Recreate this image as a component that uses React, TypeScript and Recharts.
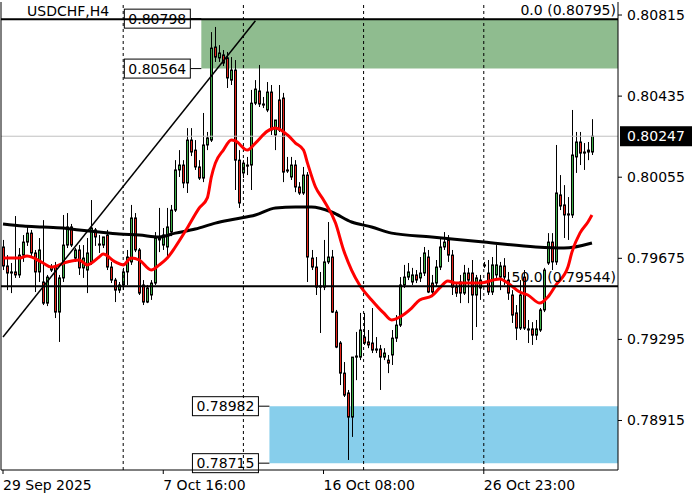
import {
  Bar,
  ComposedChart,
  Line,
  ReferenceArea,
  ReferenceLine,
  XAxis,
  YAxis,
} from "recharts";

const FONT = "DejaVu Sans, sans-serif";
const UP = "#3cae46";
const DOWN = "#e2231a";

// USDCHF H4 candles: [open, high, low, close]
const candles: [number, number, number, number][] = [
  [0.79728, 0.79761, 0.7962, 0.79639],
  [0.79639, 0.7969, 0.79526, 0.79606],
  [0.79606, 0.79653, 0.79512, 0.79611],
  [0.79611, 0.79873, 0.79583, 0.79597],
  [0.79597, 0.79723, 0.79583, 0.7969],
  [0.7969, 0.79784, 0.79658, 0.79751],
  [0.79751, 0.79822, 0.79733, 0.79793],
  [0.79793, 0.79808, 0.79686, 0.797],
  [0.797, 0.79714, 0.79517, 0.79611],
  [0.79611, 0.7977, 0.79564, 0.79714],
  [0.79564, 0.79854, 0.79456, 0.79465],
  [0.79465, 0.79597, 0.79451, 0.79587],
  [0.7962, 0.79648, 0.79611, 0.79634],
  [0.79634, 0.79658, 0.79395, 0.79423],
  [0.79423, 0.79597, 0.79283, 0.79583],
  [0.79583, 0.79878, 0.79564, 0.79737],
  [0.79737, 0.79887, 0.79723, 0.79822],
  [0.79822, 0.79836, 0.79728, 0.79737],
  [0.79676, 0.79723, 0.79658, 0.79714],
  [0.79714, 0.79737, 0.79597, 0.7963],
  [0.7963, 0.79737, 0.79583, 0.79676],
  [0.7962, 0.7977, 0.79512, 0.797],
  [0.79658, 0.79948, 0.79644, 0.79817],
  [0.79808, 0.79817, 0.79733, 0.79775],
  [0.79737, 0.79784, 0.797, 0.79742],
  [0.79737, 0.79761, 0.79723, 0.79775],
  [0.79784, 0.79808, 0.7962, 0.79634],
  [0.79634, 0.79658, 0.79559, 0.79573],
  [0.79573, 0.79583, 0.7947, 0.79526],
  [0.79526, 0.79564, 0.79512, 0.7955],
  [0.7955, 0.7963, 0.79526, 0.79611],
  [0.79611, 0.79714, 0.7955, 0.79681],
  [0.79658, 0.79925, 0.79644, 0.79864],
  [0.79864, 0.79887, 0.79704, 0.79714],
  [0.79714, 0.79723, 0.79503, 0.79512],
  [0.7955, 0.79573, 0.79456, 0.7947],
  [0.7947, 0.7955, 0.79465, 0.79536],
  [0.79503, 0.79573, 0.7948, 0.79559],
  [0.79559, 0.79798, 0.7955, 0.7977],
  [0.7977, 0.79911, 0.79704, 0.79761],
  [0.79737, 0.79817, 0.79714, 0.79784],
  [0.79728, 0.79911, 0.79686, 0.79822],
  [0.79798, 0.79925, 0.79779, 0.79901],
  [0.79901, 0.80135, 0.79892, 0.80089],
  [0.80089, 0.80182, 0.80056, 0.80112],
  [0.80112, 0.80135, 0.80004, 0.80028],
  [0.80028, 0.80285, 0.79981, 0.80229],
  [0.80229, 0.80285, 0.80154, 0.80173],
  [0.80182, 0.80229, 0.80089, 0.80103],
  [0.80103, 0.80135, 0.80042, 0.80051],
  [0.80051, 0.80356, 0.80032, 0.80206],
  [0.80206, 0.80267, 0.80182, 0.80239],
  [0.80229, 0.80735, 0.8022, 0.8066],
  [0.80665, 0.80759, 0.80595, 0.80618],
  [0.80614, 0.80674, 0.80595, 0.80637],
  [0.80628, 0.80651, 0.80576, 0.8059],
  [0.80614, 0.80642, 0.80473, 0.8052],
  [0.8051, 0.80618, 0.80487, 0.80557],
  [0.80557, 0.80604, 0.79995, 0.80135],
  [0.80135, 0.80182, 0.79911, 0.79934],
  [0.80075, 0.80135, 0.80051, 0.80121],
  [0.80112, 0.8015, 0.80065, 0.80107],
  [0.80112, 0.80464, 0.79995, 0.80402],
  [0.80402, 0.8051, 0.80393, 0.80468],
  [0.80459, 0.80581, 0.80384, 0.80398],
  [0.80398, 0.80431, 0.80379, 0.80393],
  [0.8037, 0.80501, 0.8036, 0.80454],
  [0.80454, 0.80487, 0.80253, 0.80276],
  [0.80253, 0.80323, 0.80182, 0.80323],
  [0.80417, 0.80487, 0.80267, 0.80276],
  [0.80426, 0.8045, 0.80032, 0.80079],
  [0.80089, 0.8015, 0.80075, 0.80084],
  [0.80056, 0.8015, 0.80042, 0.80112],
  [0.80112, 0.80135, 0.79985, 0.80009],
  [0.80009, 0.80032, 0.79972, 0.79981],
  [0.79981, 0.80103, 0.79972, 0.80065],
  [0.80065, 0.80079, 0.79564, 0.79681],
  [0.79676, 0.79714, 0.7962, 0.79634],
  [0.79634, 0.79681, 0.79503, 0.7954],
  [0.79545, 0.79611, 0.79325, 0.7954],
  [0.7954, 0.79761, 0.79526, 0.79658],
  [0.79658, 0.79845, 0.79648, 0.79681],
  [0.79681, 0.79714, 0.79419, 0.79423],
  [0.79423, 0.79433, 0.79254, 0.79259],
  [0.79278, 0.79287, 0.79081, 0.79137],
  [0.79137, 0.79189, 0.79025, 0.79034],
  [0.79044, 0.79058, 0.7873, 0.78931],
  [0.78931, 0.79212, 0.78838, 0.79212],
  [0.79212, 0.7933, 0.79104, 0.79217],
  [0.79212, 0.79419, 0.79198, 0.79339],
  [0.79306, 0.79419, 0.79269, 0.79278],
  [0.79283, 0.79339, 0.79254, 0.79269],
  [0.79278, 0.79442, 0.79231, 0.79245],
  [0.7925, 0.79306, 0.79231, 0.79245],
  [0.7925, 0.79269, 0.79058, 0.79212],
  [0.79212, 0.79254, 0.79198, 0.79231],
  [0.79198, 0.79222, 0.79137, 0.79184],
  [0.79222, 0.79339, 0.79175, 0.79301],
  [0.79301, 0.79409, 0.79283, 0.79362],
  [0.79362, 0.79587, 0.79353, 0.7955],
  [0.7955, 0.79644, 0.79536, 0.79587],
  [0.79587, 0.79653, 0.79573, 0.79611],
  [0.79564, 0.7963, 0.7955, 0.79597],
  [0.79597, 0.7962, 0.79559, 0.79573],
  [0.79583, 0.79681, 0.79564, 0.79606],
  [0.79606, 0.79728, 0.79592, 0.797],
  [0.79681, 0.79714, 0.79512, 0.79517],
  [0.79559, 0.79597, 0.79503, 0.79517],
  [0.79559, 0.79667, 0.79545, 0.79634],
  [0.79634, 0.7977, 0.7962, 0.79728],
  [0.79728, 0.79798, 0.79714, 0.79751],
  [0.79761, 0.79784, 0.79658, 0.7969],
  [0.7969, 0.79714, 0.79503, 0.7954],
  [0.7954, 0.79564, 0.79494, 0.79512],
  [0.79564, 0.79597, 0.79465, 0.79512],
  [0.79512, 0.79644, 0.79503, 0.79606],
  [0.79606, 0.7963, 0.79465, 0.79573],
  [0.79606, 0.79667, 0.79292, 0.79503],
  [0.79503, 0.79597, 0.79353, 0.79583],
  [0.79536, 0.79597, 0.7948, 0.79573],
  [0.79644, 0.79658, 0.7963, 0.79639],
  [0.79606, 0.79667, 0.79503, 0.79517],
  [0.79517, 0.79681, 0.79503, 0.79644],
  [0.79597, 0.79737, 0.79573, 0.79644],
  [0.79587, 0.79658, 0.79526, 0.79639],
  [0.79639, 0.79676, 0.7955, 0.79587],
  [0.79573, 0.79611, 0.7948, 0.79512],
  [0.79503, 0.79526, 0.79372, 0.79409],
  [0.79419, 0.79456, 0.79292, 0.79348],
  [0.79348, 0.79573, 0.79339, 0.79503],
  [0.79587, 0.7962, 0.79339, 0.79348],
  [0.79344, 0.79386, 0.79278, 0.79339],
  [0.79344, 0.79376, 0.79269, 0.79315],
  [0.79315, 0.79386, 0.79292, 0.79344],
  [0.79339, 0.79442, 0.7933, 0.79433],
  [0.79433, 0.7963, 0.79423, 0.7962],
  [0.79653, 0.79793, 0.79644, 0.79751],
  [0.79751, 0.79793, 0.7962, 0.79658],
  [0.79658, 0.80206, 0.79644, 0.79981],
  [0.79972, 0.80065, 0.79901, 0.7992],
  [0.79925, 0.80018, 0.7977, 0.79878],
  [0.79883, 0.79962, 0.79761, 0.79878],
  [0.79878, 0.8037, 0.79864, 0.80159],
  [0.8015, 0.80267, 0.80075, 0.8022],
  [0.8022, 0.80267, 0.80112, 0.80168],
  [0.80173, 0.80215, 0.80089, 0.80168],
  [0.80173, 0.8022, 0.80135, 0.80182],
  [0.80173, 0.80327, 0.80159, 0.80247],
];

// empty bars kept on the right (chart shift)
const shiftBars = 6;

// moving averages, [bar, price] read at a few bars
const fastMa: [number, number][] = [
  [0, 0.79676], [4, 0.79676], [6, 0.79686], [10, 0.79653], [12, 0.79634],
  [16, 0.79658], [19, 0.79667], [21, 0.79644], [24, 0.79681], [25, 0.79695],
  [28, 0.79658], [30, 0.79644], [32, 0.79676], [34, 0.79667], [37, 0.7962],
  [39, 0.79644], [41, 0.79676], [43, 0.79728], [46, 0.79817], [49, 0.79911],
  [51, 0.79958], [52, 0.80056], [53, 0.80121], [55, 0.80182], [57, 0.80229],
  [58, 0.80225], [61, 0.80182], [63, 0.80215], [66, 0.80271], [68, 0.80285],
  [71, 0.80253], [73, 0.80215], [75, 0.80182], [76, 0.80121], [78, 0.80009],
  [80, 0.79948], [83, 0.7984], [85, 0.79714], [87, 0.7962], [89, 0.7955],
  [92, 0.7948], [95, 0.79419], [97, 0.79386], [99, 0.794], [102, 0.79442],
  [104, 0.7948], [107, 0.79498], [109, 0.79536], [111, 0.79569], [113, 0.79559],
  [119, 0.79559], [124, 0.79578], [126, 0.79559], [129, 0.79517], [131, 0.79503],
  [134, 0.79465], [136, 0.79494], [138, 0.7955], [141, 0.79634], [142, 0.79704],
  [144, 0.79793], [146, 0.79845], [147, 0.79878],
];
const slowMa: [number, number][] = [
  [0, 0.79836], [5, 0.79826], [10, 0.79822], [15, 0.79817], [19, 0.79808],
  [24, 0.79798], [29, 0.79789], [34, 0.79784], [39, 0.79775], [43, 0.79793],
  [48, 0.79812], [53, 0.7984], [58, 0.79859], [63, 0.79878], [68, 0.79911],
  [73, 0.79915], [77, 0.79915], [82, 0.79892], [87, 0.79845], [92, 0.79822],
  [97, 0.79793], [107, 0.79775], [120, 0.79751], [133, 0.79728], [140, 0.79723],
  [147, 0.79747],
];

const labelBars = [0, 40, 80, 120];
const labelTexts = ["29 Sep 2025", "7 Oct 16:00", "16 Oct 08:00", "26 Oct 23:00"];
const weekSeparators = [30, 60, 90, 120];
const priceTicks = [0.78915, 0.79295, 0.79675, 0.80055, 0.80435, 0.80815];

const lastPrice = 0.80247;
const fiboZero = 0.80795;
const fiboHalf = 0.79544;
const trendStart: [number, number] = [0, 0.79306];
const trendEnd: [number, number] = [63, 0.80788];
const supplyBars = [50, 153];
const supplyPrices = [0.80564, 0.80798];
const demandBars = [67, 153];
const demandPrices = [0.78715, 0.78982];

const fastMap = new Map(fastMa);
const slowMap = new Map(slowMa);
const data = Array.from({ length: candles.length + shiftBars }, (_, i) => {
  const c = candles[i];
  return {
    i,
    ohlc: c,
    range: c ? [c[2], c[1]] : undefined,
    fast: fastMap.get(i) ?? null,
    slow: slowMap.get(i) ?? null,
  };
});

const Candle = (props: any) => {
  const { x, y, width, height, payload } = props;
  if (!payload || !payload.ohlc) return null;
  const [o, h, l, c] = payload.ohlc;
  const k = height / (h - l || 1e-9);
  const cx = Math.floor(x + width / 2) + 0.5;
  const top = y + (h - Math.max(o, c)) * k;
  const bottom = y + (h - Math.min(o, c)) * k;
  return (
    <g>
      <line x1={cx} x2={cx} y1={y} y2={y + height} stroke="#000" strokeWidth={1} />
      <rect
        x={cx - 1}
        y={top}
        width={2}
        height={Math.max(bottom - top, 0.5)}
        fill={c >= o ? UP : DOWN}
        stroke="#000"
        strokeWidth={1}
      />
    </g>
  );
};

const DateTick = (props: any) => {
  const { x, y, payload } = props;
  const n = labelBars.indexOf(payload.value);
  if (n < 0) return null;
  return (
    <g>
      <line x1={x} x2={x} y1={y} y2={y + 4} stroke="#000" />
      <text x={x} y={y + 20} fontSize={14} fontFamily={FONT} fill="#000">
        {labelTexts[n]}
      </text>
    </g>
  );
};

const PriceBox = ({ right, y, text }: { right: number; y: number; text: string }) => (
  <g>
    <line x1={right} x2={right + 11} y1={y} y2={y} stroke="#000" />
    <rect x={right - 66} y={y - 9.5} width={66} height={19} fill="#fff" stroke="#000" />
    <text x={right - 33} y={y + 5} textAnchor="middle" fontSize={14} fontFamily={FONT} fill="#000">
      {text}
    </text>
  </g>
);

const zoneLabel = (low: number, high: number) => (props: any) => {
  const vb = props.viewBox;
  if (!vb) return null;
  return (
    <g>
      <PriceBox right={vb.x - 11} y={vb.y} text={high.toFixed(5)} />
      <PriceBox right={vb.x - 11} y={vb.y + vb.height} text={low.toFixed(5)} />
    </g>
  );
};

const fiboLabel = (text: string) => (props: any) => {
  const vb = props.viewBox;
  if (!vb) return null;
  return (
    <text x={vb.x + vb.width - 2} y={vb.y - 4} textAnchor="end" fontSize={14} fontFamily={FONT} fill="#000">
      {text}
    </text>
  );
};

const lastPriceLabel = (props: any) => {
  const vb = props.viewBox;
  if (!vb) return null;
  const x = vb.x + vb.width + 2;
  return (
    <g>
      <rect x={x} y={vb.y - 10} width={72} height={20} fill="#000" />
      <text x={x + 7} y={vb.y + 5} fontSize={14} fontFamily={FONT} fill="#fff">
        {lastPrice.toFixed(5)}
      </text>
    </g>
  );
};

export default function App() {
  return (
    <div style={{ position: "absolute", left: 0, top: 0, width: 700, height: 500, background: "#fff" }}>
      <ComposedChart
        width={700}
        height={500}
        data={data}
        margin={{ top: 2, right: 0, left: 0, bottom: 0 }}
      >
        <XAxis
          dataKey="i"
          type="category"
          interval={0}
          height={30}
          tickLine={false}
          tickSize={0}
          tickMargin={0}
          axisLine={{ stroke: "#000" }}
          tick={<DateTick />}
        />
        <YAxis
          orientation="right"
          width={82}
          domain={[0.78683, 0.80876]}
          ticks={priceTicks}
          tickFormatter={(v: number) => v.toFixed(5)}
          tickSize={4}
          tickMargin={5}
          axisLine={{ stroke: "#000" }}
          tickLine={{ stroke: "#000" }}
          tick={{ fill: "#000", fontSize: 14, fontFamily: FONT }}
          allowDataOverflow
        />
        <YAxis yAxisId="frame" orientation="left" width={1} tick={false} axisLine={{ stroke: "#000" }} />

        <ReferenceArea
          x1={supplyBars[0]}
          x2={supplyBars[1]}
          y1={supplyPrices[0]}
          y2={supplyPrices[1]}
          fill="#8fbc8f"
          fillOpacity={1}
          stroke="none"
          label={zoneLabel(supplyPrices[0], supplyPrices[1])}
        />
        <ReferenceArea
          x1={demandBars[0]}
          x2={demandBars[1]}
          y1={demandPrices[0]}
          y2={demandPrices[1]}
          fill="#87ceeb"
          fillOpacity={1}
          stroke="none"
          label={zoneLabel(demandPrices[0], demandPrices[1])}
        />
        {weekSeparators.map((b) => (
          <ReferenceLine key={b} x={b} stroke="#000" strokeDasharray="3 3" strokeWidth={1} />
        ))}
        <ReferenceLine y={lastPrice} stroke="#c0c0c0" strokeWidth={1} label={lastPriceLabel} />

        <Bar dataKey="range" barSize={3} shape={<Candle />} isAnimationActive={false} />

        <Line
          dataKey="slow"
          type="monotone"
          stroke="#000"
          strokeWidth={3}
          dot={false}
          connectNulls
          isAnimationActive={false}
        />
        <Line
          dataKey="fast"
          type="monotone"
          stroke="#ff0000"
          strokeWidth={3}
          dot={false}
          connectNulls
          isAnimationActive={false}
        />

        <ReferenceLine y={fiboZero} stroke="#000" strokeWidth={2} label={fiboLabel(`0.0 (${fiboZero.toFixed(5)})`)} />
        <ReferenceLine y={fiboHalf} stroke="#000" strokeWidth={2} label={fiboLabel(`50.0 (${fiboHalf.toFixed(5)})`)} />
        <ReferenceLine
          segment={[
            { x: trendStart[0], y: trendStart[1] },
            { x: trendEnd[0], y: trendEnd[1] },
          ]}
          stroke="#000"
          strokeWidth={1.5}
        />
      </ComposedChart>
      <div
        style={{
          position: "absolute",
          left: 27,
          top: 3,
          fontFamily: FONT,
          fontSize: 14,
          color: "#000",
          whiteSpace: "nowrap",
        }}
      >
        USDCHF,H4
      </div>
    </div>
  );
}
